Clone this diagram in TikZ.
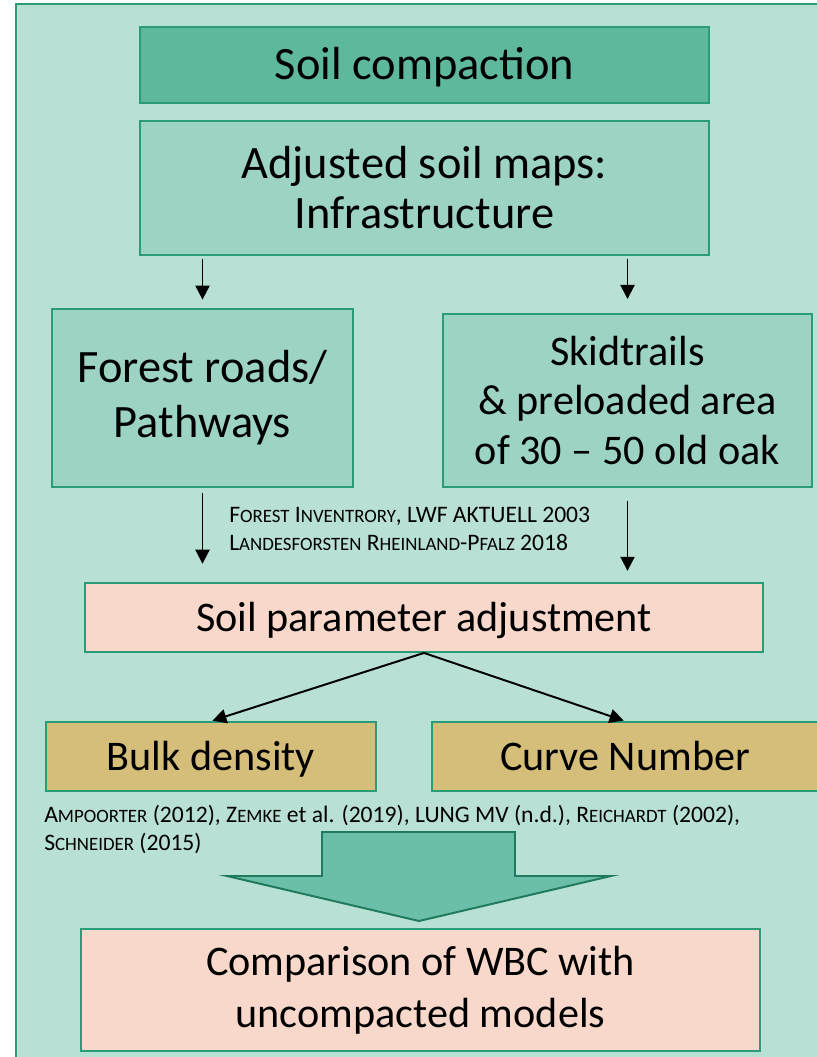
\documentclass[tikz,border=0pt]{standalone}
\usepackage{fontspec}
\setmainfont{Carlito}
\usetikzlibrary{arrows.meta}

\definecolor{bgfill}{HTML}{B9E0D5}
\definecolor{frameline}{HTML}{2A9D78}
\definecolor{topfill}{HTML}{5DB89E}
\definecolor{mapfill}{HTML}{9DD3C5}
\definecolor{pinkfill}{HTML}{F8D8CB}
\definecolor{goldfill}{HTML}{D4BE79}
\definecolor{bigarrfill}{HTML}{6BBFA8}
\definecolor{bigarrline}{HTML}{1F7A5E}

% fake small caps
\newcommand{\scs}{\fontsize{13.4}{20}\selectfont}

\begin{document}
\begin{tikzpicture}[
    x=0.025cm, y=-0.025cm,
    >={Triangle[width=10pt,length=10pt]},
    box/.style={draw=frameline, line width=1.3pt, inner sep=0pt, align=center,
        font=\fontsize{30}{35}\selectfont},
    bigbox/.style={box, font=\fontsize{33}{36}\selectfont},
    oneline/.style={text height=19.2pt, text depth=0pt},
    refs/.style={inner sep=0pt, align=left, font=\fontsize{16.8}{20}\selectfont},
    arr/.style={->, line width=1.4pt}
]

\useasboundingbox (0,0) rectangle (816,1057);
\fill[white] (0,0) rectangle (816,1057);
\draw[frameline, fill=bgfill, line width=2pt] (16,4) rectangle (840,1080);

\node[bigbox, oneline, text height=21pt, fill=topfill, minimum width=14.225cm, minimum height=1.9cm] (comp) at (424.5,65) {Soil compaction};
\node[bigbox, fill=mapfill, minimum width=14.225cm, minimum height=3.35cm,
    font=\fontsize{33}{35.5}\selectfont] (maps) at (424.5,188) {Adjusted soil maps:\\Infrastructure};

\node[bigbox, fill=mapfill, minimum width=7.525cm, minimum height=4.45cm,
    font=\fontsize{33}{39}\selectfont] (roads) at (202.5,398) {Forest roads/\\Pathways};
\node[box, fill=mapfill, minimum width=9.225cm, minimum height=4.325cm] (skid) at (627.5,400.5)
    {Skidtrails\\\& preloaded area\\of 30 -- 50 old oak};

\node[refs, anchor=north west] (inv) at (229,507)
    {F{\scs OREST} I{\scs NVENTRORY}, LWF AKTUELL 2003\\
     L{\scs ANDESFORSTEN} R{\scs HEINLAND}-P{\scs FALZ} 2018};

\node[box, oneline, fill=pinkfill, minimum width=16.95cm, minimum height=1.725cm] (param) at (424,617.5) {Soil parameter adjustment};

\node[box, oneline, fill=goldfill, minimum width=8.25cm, minimum height=1.725cm] (bulk) at (211,756.5) {Bulk density};
\node[box, oneline, fill=goldfill, minimum width=9.65cm, minimum height=1.725cm] (curve) at (625,756.5) {Curve Number};

\node[refs, anchor=north west] (lit) at (44,805)
    {A{\scs MPOORTER} (2012), Z{\scs EMKE} et al. (2019), LUNG MV (n.d.), R{\scs EICHARDT} (2002),\\
     S{\scs CHNEIDER} (2015)};

\node[box, fill=pinkfill, minimum width=16.975cm, minimum height=3.05cm,
    font=\fontsize{30}{37}\selectfont] (cmpr) at (420.5,990) {Comparison of WBC with\\uncompacted models};

% big block arrow
\draw[bigarrline, fill=bigarrfill, line width=1.4pt]
    (322,832) -- (515,832) -- (515,876) -- (611,876) -- (419,921)
    -- (227,876) -- (322,876) -- cycle;

\draw[arr, shorten <=2pt, shorten >=6pt] (maps.south -| roads.north) -- (roads.north);
\draw[arr, shorten <=2pt, shorten >=10pt] (maps.south -| skid.north) -- (skid.north);

\draw[arr, shorten <=3.5pt, shorten >=13pt] (roads.south) -- (roads.south |- param.north);
\draw[arr, shorten <=9pt, shorten >=8pt] (skid.south) -- (skid.south |- param.north);

\draw[arr, shorten >=1pt] (param.south) -- (bulk.north);
\draw[arr, shorten >=1pt] (param.south) -- (curve.north);

\end{tikzpicture}
\end{document}
